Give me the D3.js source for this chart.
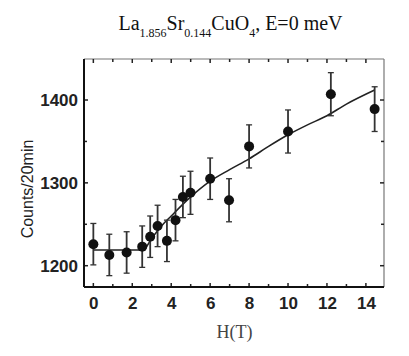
<!DOCTYPE html>
<html><head><meta charset="utf-8">
<script src="https://cdn.jsdelivr.net/npm/d3@7"></script>
<style>body{margin:0;background:#fff}svg{display:block}</style>
</head><body>
<svg id="c" width="409" height="356"></svg>
<script>
const fieldH = [0, 0.82, 1.71, 2.51, 2.92, 3.30, 3.78, 4.22, 4.60, 4.99, 6.0, 6.97, 8.0, 10.0, 12.2, 14.45];
const counts = [1226, 1213, 1216, 1223, 1235, 1248, 1230, 1255, 1283, 1288, 1305, 1279, 1344, 1362, 1407, 1389];
const errs   = [25, 25, 25, 25, 25, 25, 25, 25, 25, 26, 25, 26, 26, 26, 26, 27];
const fitH   = [0, 2.55, 3.0, 3.5, 4.0, 5.0, 6.0, 7.0, 8.0, 9.0, 10.0, 11.0, 12.0, 13.0, 14.45];
const fitC   = [1219, 1219, 1233, 1248, 1260, 1283, 1302, 1316, 1329, 1344, 1358, 1370, 1381, 1395, 1412];
const xTicks = [0, 2, 4, 6, 8, 10, 12, 14];
const xMinor = [1, 3, 5, 7, 9, 11, 13];
const yTicks = [1200, 1300, 1400];
const yMinor = [1250, 1350];

const svg = d3.select("#c");
const L = 84, R = 384, T = 59, B = 287;
const x = d3.scaleLinear().domain([-0.48, 14.93]).range([L, R]);
const y = d3.scaleLinear().domain([1174.3, 1449.5]).range([B, T]);

// frame: top/right light
svg.append("line").attr("x1", L).attr("x2", R).attr("y1", T).attr("y2", T).attr("stroke", "#777").attr("stroke-width", 1.2);
svg.append("line").attr("x1", R).attr("x2", R).attr("y1", T).attr("y2", B).attr("stroke", "#777").attr("stroke-width", 1.2);

// ticks (inward)
const tickG = svg.append("g").attr("stroke", "#222").attr("stroke-width", 1.5);
xTicks.concat(xMinor).forEach(v => {
  const major = xTicks.includes(v);
  const len = major ? 4 : 3;
  tickG.append("line").attr("x1", x(v)).attr("x2", x(v)).attr("y1", B).attr("y2", B - len);
  tickG.append("line").attr("x1", x(v)).attr("x2", x(v)).attr("y1", T).attr("y2", T + len);
});
yTicks.concat(yMinor).forEach(v => {
  const major = yTicks.includes(v);
  const len = major ? 4 : 3;
  tickG.append("line").attr("x1", L).attr("x2", L + len).attr("y1", y(v)).attr("y2", y(v));
  tickG.append("line").attr("x1", R).attr("x2", R - len).attr("y1", y(v)).attr("y2", y(v));
});

// bottom / left axes with labels
const xAxis = d3.axisBottom(x).tickValues(xTicks).tickSize(0).tickPadding(10).tickFormat(d3.format("d"));
const gx = svg.append("g").attr("transform", `translate(0,${B})`).call(xAxis);
gx.select(".domain").remove();
gx.selectAll("text").attr("font-family", "Liberation Sans, Arial, sans-serif").attr("font-size", 17).attr("font-weight", "bold").attr("fill", "#222");

const yAxis = d3.axisLeft(y).tickValues(yTicks).tickSize(0).tickPadding(6).tickFormat(d3.format("d"));
const gy = svg.append("g").attr("transform", `translate(${L},0)`).call(yAxis);
gy.select(".domain").remove();
gy.selectAll("text").attr("font-family", "Liberation Sans, Arial, sans-serif").attr("font-size", 17).attr("font-weight", "bold").attr("fill", "#222");

svg.append("line").attr("x1", L).attr("x2", R).attr("y1", B).attr("y2", B).attr("stroke", "#111").attr("stroke-width", 2);
svg.append("line").attr("x1", L).attr("x2", L).attr("y1", T).attr("y2", B).attr("stroke", "#111").attr("stroke-width", 2);

// fit line
svg.append("path")
  .datum(fitH.map((h, i) => [h, fitC[i]]))
  .attr("fill", "none").attr("stroke", "#222").attr("stroke-width", 1.6)
  .attr("d", d3.line().x(d => x(d[0])).y(d => y(d[1])).curve(d3.curveMonotoneX));

// error bars
const pts = fieldH.map((h, i) => ({h, c: counts[i], e: errs[i]}));
const eg = svg.append("g").attr("stroke", "#333").attr("stroke-width", 1.8);
pts.forEach(p => {
  eg.append("line").attr("x1", x(p.h)).attr("x2", x(p.h)).attr("y1", y(p.c - p.e)).attr("y2", y(p.c + p.e));
  [p.c - p.e, p.c + p.e].forEach(v => eg.append("line").attr("x1", x(p.h) - 3).attr("x2", x(p.h) + 3).attr("y1", y(v)).attr("y2", y(v)).attr("stroke-width", 1.3));
});
svg.append("g").selectAll("circle").data(pts).join("circle")
  .attr("cx", d => x(d.h)).attr("cy", d => y(d.c)).attr("r", 5).attr("fill", "#111");

// labels
svg.append("text").attr("transform", "translate(33,189) rotate(-90)").attr("text-anchor", "middle")
  .attr("font-family", "Liberation Sans, Arial, sans-serif").attr("font-size", 16).attr("fill", "#222").text("Counts/20min");
svg.append("text").attr("x", 234.5).attr("y", 338).attr("text-anchor", "middle")
  .attr("font-family", "Liberation Serif, Times New Roman, serif").attr("font-size", 18).attr("fill", "#444").text("H(T)");

const title = svg.append("text").attr("x", 230.5).attr("y", 30).attr("text-anchor", "middle")
  .attr("font-family", "Liberation Serif, Times New Roman, serif").attr("font-size", 20).attr("fill", "#111");
const parts = [["La", 0], ["1.856", 1], ["Sr", 0], ["0.144", 1], ["CuO", 0], ["4", 1], [", E=0 meV", 0]];
let cur = 0;
parts.forEach(([t, sub]) => {
  const target = sub ? 7 : 0;
  title.append("tspan").attr("dy", target - cur).attr("font-size", sub ? 12 : 20).text(t);
  cur = target;
});
</script>
</body></html>
